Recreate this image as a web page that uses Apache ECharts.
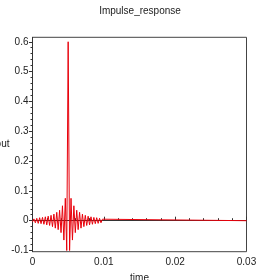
<!DOCTYPE html>
<html><head><meta charset="utf-8">
<script src="https://cdn.jsdelivr.net/npm/echarts@6/dist/echarts.min.js"></script>
<style>html,body{margin:0;padding:0;background:#fff}#c{width:280px;height:280px}</style>
</head><body><div id="c"></div>
<script>
const titleText = 'Impulse_response';
const xName = 'time';
const yName = 'out';
const xTicks = [0, 0.01, 0.02, 0.03];
const yTicks = [-0.1, 0, 0.1, 0.2, 0.3, 0.4, 0.5, 0.6];
const time = [0, 0.0002, 0.0004, 0.0006, 0.0008, 0.001, 0.0012, 0.0014, 0.0016, 0.0018,
  0.002, 0.0022, 0.0024, 0.0026, 0.0028, 0.003, 0.0032, 0.0034, 0.0036, 0.0038,
  0.004, 0.0042, 0.0044, 0.0046, 0.0048, 0.005, 0.0052, 0.0054, 0.0056, 0.0058,
  0.006, 0.0062, 0.0064, 0.0066, 0.0068, 0.007, 0.0072, 0.0074, 0.0076, 0.0078,
  0.008, 0.0082, 0.0084, 0.0086, 0.0088, 0.009, 0.0092, 0.0094, 0.0096, 0.0098,
  0.01, 0.03];
const out = [-0.004, 0.006, -0.007, 0.008, -0.009, 0.01, -0.01, 0.011, -0.012, 0.013,
  -0.014, 0.015, -0.016, 0.018, -0.02, 0.022, -0.025, 0.028, -0.03, 0.035,
  -0.04, 0.05, -0.065, 0.075, -0.1, 0.6, -0.1, 0.075, -0.065, 0.05,
  -0.04, 0.035, -0.03, 0.028, -0.025, 0.022, -0.02, 0.018, -0.016, 0.015,
  -0.014, 0.013, -0.012, 0.011, -0.01, 0.01, -0.009, 0.008, -0.007, 0.005,
  0, 0];

const yMinor = [];
for (let i = 0; i < yTicks.length - 1; i++) {
  for (let k = 1; k < 5; k++) yMinor.push(+(yTicks[i] + (yTicks[i + 1] - yTicks[i]) * k / 5).toFixed(4));
}
const font = 'Liberation Sans, Arial, sans-serif';
const chart = echarts.init(document.getElementById('c'), null, {renderer: 'canvas'});
chart.setOption({
  animation: false,
  backgroundColor: '#fff',
  title: {text: titleText, left: 'center', top: 1,
    textStyle: {fontSize: 10, fontWeight: 'normal', color: '#222', fontFamily: font}},
  grid: {left: 32.5, right: 33.5, top: 37.3, bottom: 28.3, show: true,
    containLabel: false, outerBoundsMode: 'none',
    borderColor: '#444', borderWidth: 1, backgroundColor: 'transparent'},
  xAxis: {
    type: 'value', min: xTicks[0], max: xTicks[xTicks.length - 1], interval: 0.01,
    name: xName, nameLocation: 'middle', nameGap: 22, nameMoveOverlap: false,
    nameTextStyle: {fontSize: 10, color: '#222', fontFamily: font},
    axisLine: {show: true, lineStyle: {color: '#333', width: 1}},
    axisTick: {show: true, inside: true, length: 4, lineStyle: {color: '#333'}},
    minorTick: {show: true, splitNumber: 5, length: 2.5, lineStyle: {color: '#333'}},
    axisLabel: {fontSize: 10, color: '#222', margin: 6, fontFamily: font},
    splitLine: {show: false}
  },
  yAxis: [{
    type: 'value', min: -0.104, max: 0.615,
    name: yName, nameLocation: 'middle', nameRotate: 0, nameGap: 23, nameMoveOverlap: false,
    nameTextStyle: {fontSize: 10, color: '#222', fontFamily: font, align: 'right'},
    axisLine: {show: true, lineStyle: {color: '#333', width: 1}},
    axisTick: {show: true, length: 3.5, customValues: yTicks, lineStyle: {color: '#333'}},
    axisLabel: {fontSize: 10, color: '#222', margin: 4, customValues: yTicks, fontFamily: font},
    splitLine: {show: false}
  }, {
    type: 'value', min: -0.104, max: 0.615, position: 'left',
    axisLine: {show: false},
    axisTick: {show: true, length: 2, customValues: yMinor, lineStyle: {color: '#333'}},
    axisLabel: {show: false},
    splitLine: {show: false}
  }],
  series: [{
    type: 'line', xAxisIndex: 0, yAxisIndex: 0,
    data: time.map((t, i) => [t, out[i]]),
    showSymbol: false, symbol: 'none',
    lineStyle: {color: '#e8000b', width: 1},
    silent: true
  }]
});
</script></body></html>
